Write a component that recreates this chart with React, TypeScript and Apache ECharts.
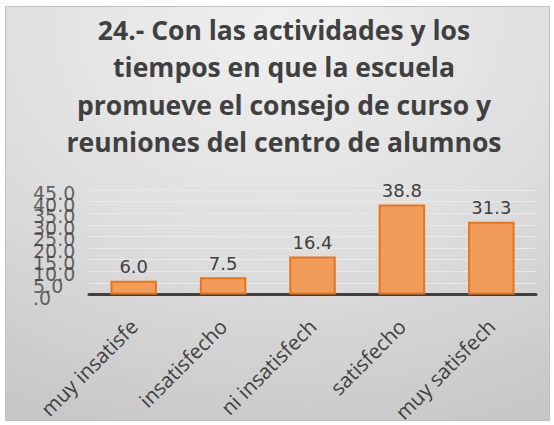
import React, { useEffect, useRef } from "react";
import * as echarts from "echarts";

const categories = ["muy insatisfe", "insatisfecho", "ni insatisfech", "satisfecho", "muy satisfech"];
const values = [6.0, 7.5, 16.4, 38.8, 31.3];
const titleLines = [
  "24.- Con las actividades y los",
  "tiempos en que la escuela",
  "promueve el consejo de curso y",
  "reuniones del centro de alumnos",
];
const yTickValues = [0, 5, 10, 15, 20, 25, 30, 35, 40, 45];
const yTickLabels = [".0", "5.0", "10.0", "15.0", "20.0", "25.0", "30.0", "35.0", "40.0", "45.0"];
const yMin = 0;
const yMax = 45;
const yStep = 5;

export default function App() {
  const ref = useRef<HTMLDivElement>(null);
  useEffect(() => {
    if (!ref.current) return;
    const chart = echarts.init(ref.current, null, { renderer: "svg" });
    chart.setOption({
      animation: false,
      backgroundColor: "#ffffff",
      graphic: [
        {
          type: "rect",
          z: -10,
          silent: true,
          shape: { x: 5.5, y: 6.5, width: 544, height: 414 },
          style: {
            fill: new echarts.graphic.RadialGradient(0.5, 0.05, 1.1, [
              { offset: 0, color: "#f0f0f0" },
              { offset: 0.5, color: "#dedede" },
              { offset: 1, color: "#c4c4c4" },
            ]),
            stroke: "#bfbfbf",
            lineWidth: 1,
          },
        },
      ],
      title: {
        text: titleLines.join("\n"),
        left: 279,
        textAlign: "center",
        top: 6,
        textStyle: {
          fontFamily: "Open Sans",
          fontWeight: "bold",
          fontSize: 26.5,
          lineHeight: 37.5,
          color: "#404040",
        },
      },
      grid: { left: 89, right: 18, top: 190, bottom: 128, containLabel: false },
      xAxis: [
        {
          type: "category",
          data: categories,
          axisLine: { show: true, lineStyle: { color: "#404040", width: 3 } },
          axisTick: { show: false },
          axisLabel: {
            rotate: 45,
            interval: 0,
            margin: 28,
            fontFamily: "Open Sans",
            fontSize: 20.5,
            color: "#404040",
          },
        },
        { type: "value", min: 0, max: 1, show: false },
      ],
      yAxis: {
        type: "value",
        min: yMin,
        max: yMax,
        interval: yStep,
        axisLine: { show: false },
        axisTick: { show: false },
        axisLabel: { show: false },
        splitLine: { show: true, lineStyle: { color: "#e9e9e9", width: 1 } },
      },
      series: [
        {
          type: "bar",
          data: values,
          barWidth: "52%",
          itemStyle: { color: "#f19c5a", borderColor: "#e8751a", borderWidth: 2 },
          label: {
            show: true,
            position: "top",
            distance: 5,
            fontFamily: "DejaVu Sans",
            fontSize: 18,
            color: "#404040",
            formatter: (p: any) => Number(p.value).toFixed(1),
          },
        },
        {
          type: "scatter",
          xAxisIndex: 1,
          symbolSize: 0,
          silent: true,
          data: yTickValues.map((v) => [0, v]),
          label: {
            show: true,
            position: [-56, 3],
            align: "left",
            verticalAlign: "middle",
            fontFamily: "DejaVu Sans",
            fontSize: 19,
            color: "#404040",
            formatter: (p: any) => yTickLabels[p.dataIndex],
          },
        },
      ],
    });
    return () => chart.dispose();
  }, []);
  return (
    <div
      ref={ref}
      style={{ position: "absolute", left: 0, top: 0, width: 554, height: 425 }}
    />
  );
}
